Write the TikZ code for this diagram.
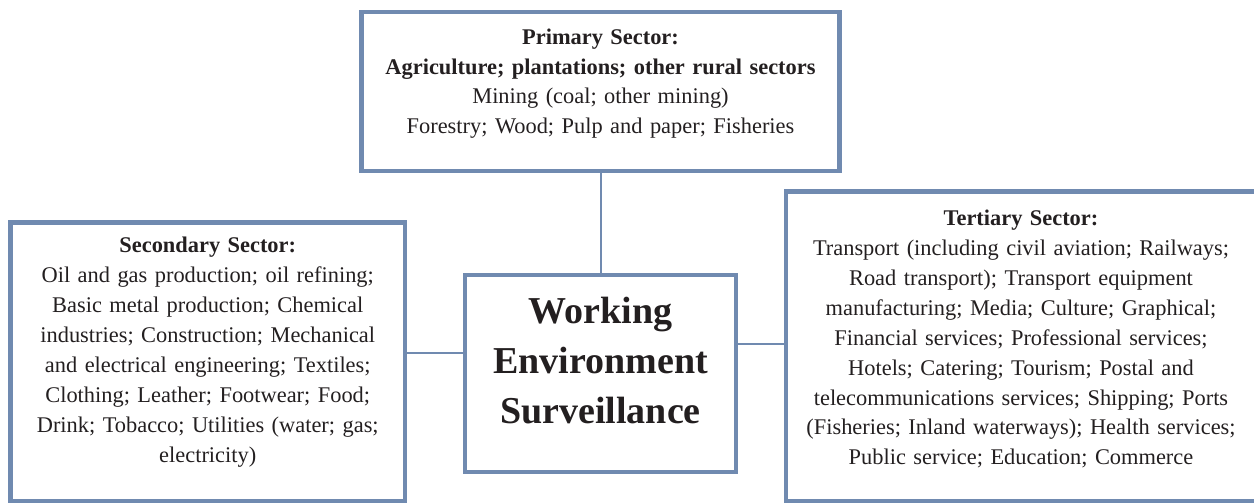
\documentclass[tikz,border=0pt]{standalone}
\usepackage{fontspec}
\setmainfont{Liberation Serif}
\definecolor{frame}{RGB}{112,138,176}
\definecolor{ink}{RGB}{35,31,32}
\begin{document}
\begin{tikzpicture}[x=1pt,y=-1pt,
    sector/.style={draw=frame,line width=4.5pt,inner sep=0pt,anchor=base,align=center,text=ink,font=\fontsize{22.4}{30}\selectfont},
    link/.style={draw=frame,line width=2pt}]
    \useasboundingbox (0,0) rectangle (1254,503);
    \node[sector,font=\fontsize{22.4}{29.5}\selectfont,minimum width=478pt,text width=470pt,text height=33pt,text depth=126pt] (prim) at (600.5,45)
        {\textbf{Primary Sector:}\\ \textbf{Agriculture; plantations; other rural sectors}\\ Mining (coal; other mining)\\ Forestry; Wood; Pulp and paper; Fisheries};
    \node[sector,minimum width=394.5pt,text width=390pt,text height=29.5pt,text depth=249pt] (sec) at (207.75,252)
        {\textbf{Secondary Sector:}\\ Oil and gas production; oil refining;\\ Basic metal production; Chemical\\ industries; Construction; Mechanical\\ and electrical engineering; Textiles;\\ Clothing; Leather; Footwear; Food;\\ Drink; Tobacco; Utilities (water; gas;\\ electricity)};
    \node[sector,minimum width=470pt,text width=462pt,text height=33.5pt,text depth=276pt] (tert) at (1021,225)
        {\textbf{Tertiary Sector:}\\ Transport (including civil aviation; Railways;\\ Road transport); Transport equipment\\ manufacturing; Media; Culture; Graphical;\\ Financial services; Professional services;\\ Hotels; Catering; Tourism; Postal and\\ telecommunications services; Shipping; Ports\\ (Fisheries; Inland waterways); Health services;\\ Public service; Education; Commerce};
    \node[sector,font=\fontsize{38}{50}\selectfont\bfseries,minimum width=271pt,text width=265pt,text height=48pt,text depth=149pt] (centre) at (600.5,323)
        {Working\\ Environment\\ Surveillance};
    % links to the centre box
    \coordinate (lj) at (430,353);
    \coordinate (rj) at (760,344);
    \draw[link] (prim.south) -- (centre.north);
    \draw[link] (sec.east |- lj) -- (centre.west |- lj);
    \draw[link] (centre.east |- rj) -- (tert.west |- rj);
\end{tikzpicture}
\end{document}
